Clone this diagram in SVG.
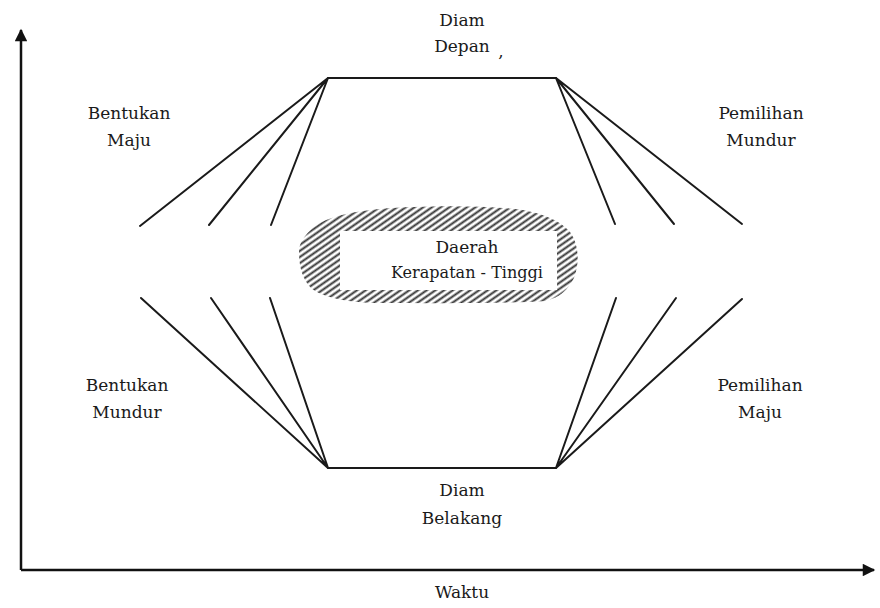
<svg xmlns="http://www.w3.org/2000/svg" width="880" height="608" viewBox="0 0 880 608">
<style>
.t{font-family:"DejaVu Serif",serif;font-size:17px;fill:#1a1a1a;text-anchor:middle}
.ln{stroke:#1a1a1a;stroke-width:2;fill:none;stroke-linecap:round}
.ax{stroke:#111;stroke-width:2.5;fill:none}
</style>
<defs>
<pattern id="hatch" patternUnits="userSpaceOnUse" width="5" height="5" patternTransform="rotate(-35)">
<line x1="0" y1="2.5" x2="5" y2="2.5" stroke="#333" stroke-width="2"/>
</pattern>
<marker id="arr" viewBox="0 0 10 10" refX="9" refY="5" markerWidth="5.5" markerHeight="5" markerUnits="strokeWidth" orient="auto">
<path d="M0,0 L10,5 L0,10 Z" fill="#111"/>
</marker>
</defs>
<rect width="880" height="608" fill="#fff"/>
<g id="axes">
<path class="ax" d="M21,570 V30" marker-end="url(#arr)"/>
<path class="ax" d="M21,570 H874" marker-end="url(#arr)"/>
</g>
<g id="region">
<path d="M299,252 C299,240 310,228 324,221 C336,216 350,212 380,209 C420,206 470,205 515,209 C540,212 560,220 570,232 C580,246 579,265 574,278 C568,290 560,297 546,301 C500,304 430,303 375,303 C345,302 322,297 311,288 C302,279 299,265 299,252 Z" fill="url(#hatch)"/>
<rect x="340" y="231" width="217" height="59" fill="#fff"/>
<text class="t" x="467" y="253">Daerah</text>
<text class="t" x="467" y="278" textLength="152" lengthAdjust="spacingAndGlyphs">Kerapatan - Tinggi</text>
</g>
<g id="connectors">
<path class="ln" d="M328,78 H556"/>
<path class="ln" d="M328,468 H556"/>
<path class="ln" d="M328,78 L140,226 M328,78 L209,225 M328,78 L271,225"/>
<path class="ln" d="M556,78 L615,224 M556,78 L674,224 M556,78 L742,224"/>
<path class="ln" d="M328,468 L141,298 M328,468 L211,298 M328,468 L270,298"/>
<path class="ln" d="M556,468 L616,298 M556,468 L676,298 M556,468 L742,299"/>
</g>
<g id="labels">
<text class="t" x="462" y="26">Diam</text>
<text class="t" x="462" y="52">Depan</text>
<text class="t" x="501" y="57">,</text>
<text class="t" x="129" y="119">Bentukan</text>
<text class="t" x="129" y="146">Maju</text>
<text class="t" x="761" y="119">Pemilihan</text>
<text class="t" x="761" y="146">Mundur</text>
<text class="t" x="127" y="391">Bentukan</text>
<text class="t" x="127" y="418">Mundur</text>
<text class="t" x="760" y="391">Pemilihan</text>
<text class="t" x="760" y="418">Maju</text>
<text class="t" x="462" y="496">Diam</text>
<text class="t" x="462" y="524">Belakang</text>
<text class="t" x="462" y="598">Waktu</text>
</g>
</svg>
